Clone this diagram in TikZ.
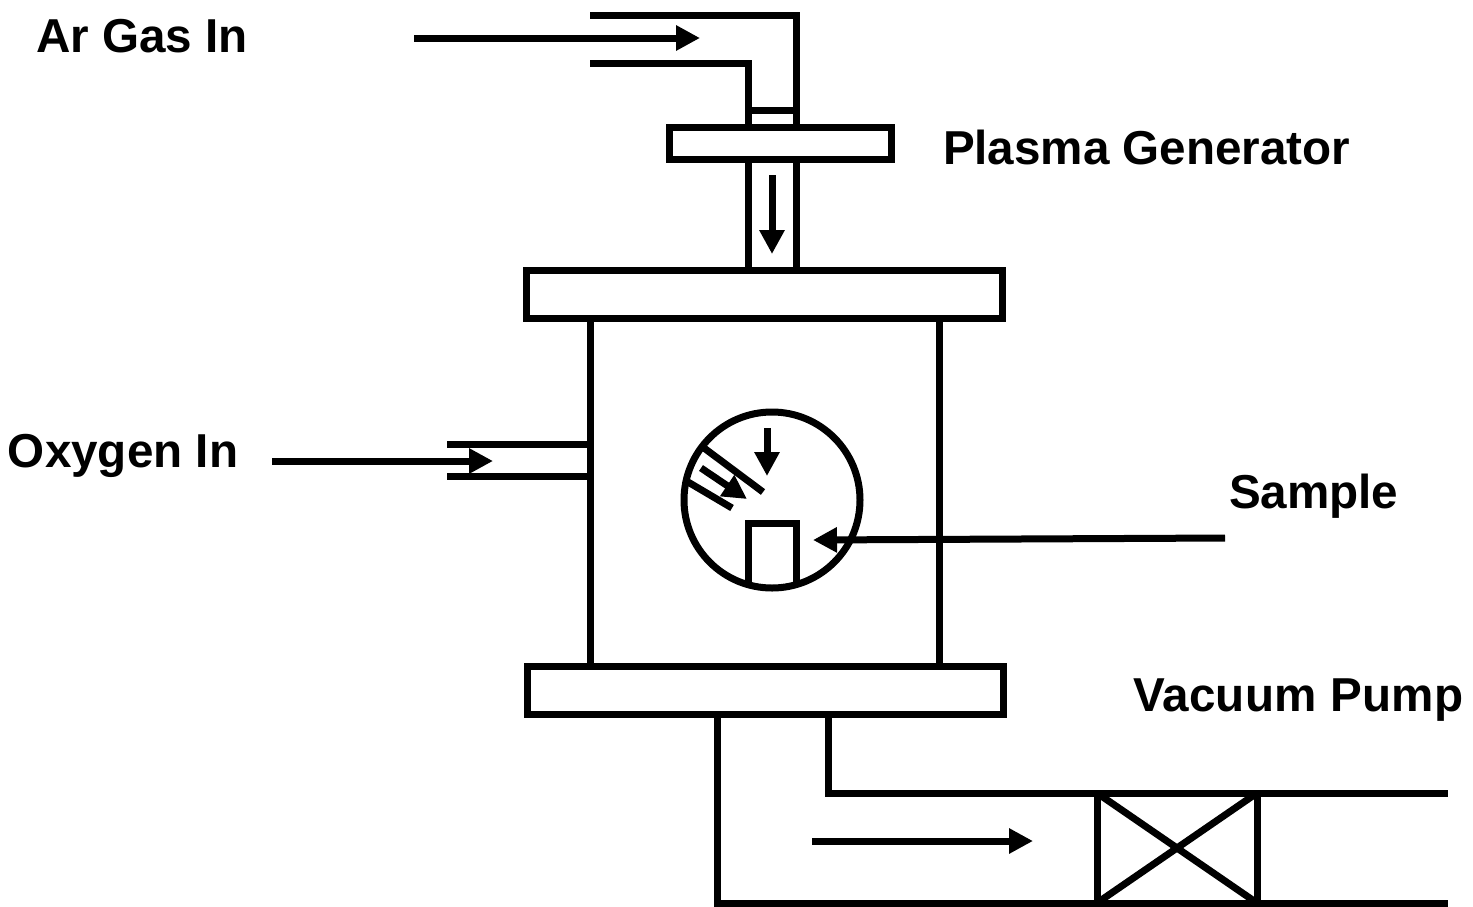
\documentclass[tikz,border=0pt]{standalone}
\usepackage{fontspec}
\setmainfont{Liberation Sans}
\usetikzlibrary{arrows.meta}
\tikzset{
  wall/.style={line width=7pt,line cap=butt,line join=miter,black},
  flow/.style={line width=7pt,black,-{Triangle[length=24pt,width=24pt]}},
  label/.style={font=\fontsize{47.6}{50}\selectfont\bfseries,anchor=base west,inner sep=0pt,outer sep=0pt,text=black}
}
\begin{document}
\begin{tikzpicture}[x=1pt,y=-1pt]
\useasboundingbox (0,0) rectangle (1473,906);
\fill[white] (0,0) rectangle (1473,906);
% labels
\node[label] (ar) at (36,52) {Ar Gas In};
\node[label] (plasma) at (943,164) {Plasma Generator};
\node[label] (oxygen) at (8,467) {Oxygen In};
\node[label] (sample) at (1229,508) {Sample};
\node[label] (vacuum) at (1133,711) {\addfontfeature{LetterSpace=0.5}Vacuum Pump};
% gas inlet tube
\draw[wall] (590,15) -- (796,15) -- (796,124);
\draw[wall] (590,63) -- (748,63) -- (748,124);
\draw[wall] (748,110) -- (796,110);
% plasma generator
\draw[wall] (669.5,127) rectangle (891.5,159);
\draw[wall] (748,159) -- (748,270);
\draw[wall] (796,159) -- (796,270);
% chamber
\draw[wall] (526,270) rectangle (1002,318);
\draw[wall] (527,666) rectangle (1003,714);
\draw[wall] (590,318) -- (590,666);
\draw[wall] (939,318) -- (939,666);
% oxygen port
\draw[wall] (447,444) -- (590,444);
\draw[wall] (447,476) -- (590,476);
% viewport
\draw[wall] (772,500) circle [radius=88];
\draw[wall] (748,584) -- (748,523) -- (796,523) -- (796,584);
\draw[wall] (700,445) -- (763,492);
\draw[wall] (688,482) -- (732,508);
% pump line
\draw[wall] (717,714) -- (717,903) -- (1448,903);
\draw[wall] (828,714) -- (828,793) -- (1448,793);
\draw[wall] (1097,793) -- (1097,903);
\draw[wall] (1257,793) -- (1257,903);
\draw[wall] (1097,793) -- (1257,903);
\draw[wall] (1097,903) -- (1257,793);
% flows
\coordinate (arS) at (414,38); \coordinate (arE) at (700,38);
\coordinate (stS) at (772,175); \coordinate (stE) at (772,254);
\coordinate (oxS) at (272,461); \coordinate (oxE) at (493,461);
\coordinate (saS) at (1225,538); \coordinate (saE) at (813,540);
\coordinate (puS) at (812,841); \coordinate (puE) at (1033,841);
\coordinate (dnS) at (767,428); \coordinate (dnE) at (767,476);
\coordinate (slS) at (701,468); \coordinate (slE) at (747,499);
\draw[flow] (arS) -- (arE);
\draw[flow] (stS) -- (stE);
\draw[flow] (oxS) -- (oxE);
\draw[flow] (saS) -- (saE);
\draw[flow] (puS) -- (puE);
\draw[flow] (dnS) -- (dnE);
\draw[flow] (slS) -- (slE);
\end{tikzpicture}
\end{document}
